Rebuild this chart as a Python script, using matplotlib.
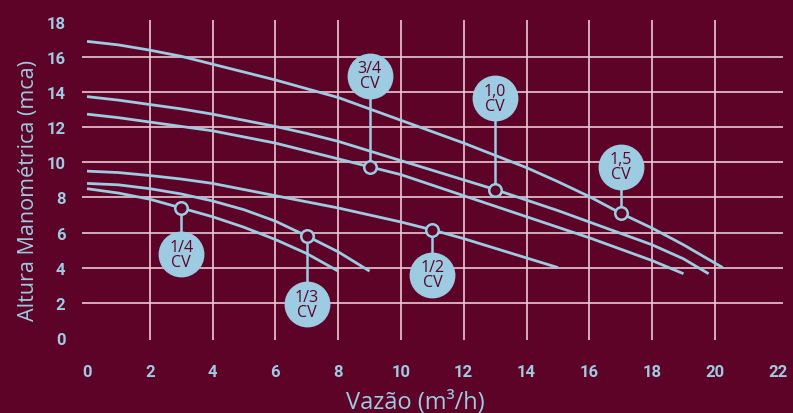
import numpy as np
import matplotlib.pyplot as plt

# Pump curves: flow (m3/h) vs head (mca)
q_14 = [0, 1, 2, 3, 4, 5, 6, 7, 8]
h_14 = [8.5, 8.25, 7.9, 7.4, 6.9, 6.3, 5.6, 4.8, 3.8]

q_13 = [0, 1, 2, 3, 4, 5, 6, 7, 8, 9]
h_13 = [8.8, 8.72, 8.5, 8.2, 7.8, 7.3, 6.65, 5.8, 4.9, 3.8]

q_12 = [0, 1, 2, 3, 4, 5, 6, 7, 8, 9, 10, 11, 12, 13, 14, 15]
h_12 = [9.5, 9.42, 9.25, 9.05, 8.8, 8.45, 8.1, 7.75, 7.4, 7.0, 6.6, 6.15, 5.65, 5.1, 4.55, 4.0]

q_34 = [0, 1, 2, 3, 4, 5, 6, 7, 8, 9, 10, 11, 12, 13, 14, 15, 16, 17, 18, 19]
h_34 = [12.75, 12.55, 12.3, 12.05, 11.8, 11.45, 11.1, 10.65, 10.2, 9.75, 9.3, 8.7, 8.1, 7.5, 6.9, 6.3, 5.7, 5.05, 4.4, 3.65]

q_10 = [0, 1, 2, 3, 4, 5, 6, 7, 8, 9, 10, 11, 12, 13, 14, 15, 16, 17, 18, 19, 19.8]
h_10 = [13.75, 13.55, 13.3, 13.05, 12.75, 12.4, 12.05, 11.65, 11.2, 10.65, 10.1, 9.55, 9.0, 8.45, 7.85, 7.25, 6.6, 5.95, 5.3, 4.5, 3.65]

q_15 = [0, 1, 2, 3, 4, 5, 6, 7, 8, 9, 10, 11, 12, 13, 14, 15, 16, 17, 18, 19, 20.25]
h_15 = [16.9, 16.7, 16.4, 16.05, 15.6, 15.15, 14.7, 14.2, 13.7, 13.05, 12.4, 11.75, 11.1, 10.4, 9.7, 8.9, 8.05, 7.1, 6.25, 5.3, 4.0]

curves = [(q_14, h_14), (q_13, h_13), (q_12, h_12), (q_34, h_34), (q_10, h_10), (q_15, h_15)]

# callouts: label, marker point, bubble centre
labels = ['1/4\nCV', '1/3\nCV', '1/2\nCV', '3/4\nCV', '1,0\nCV', '1,5\nCV']
mark_x = [3, 7, 11, 9, 13, 17]
mark_y = [7.4, 5.8, 6.15, 9.75, 8.45, 7.1]
bub_y = [4.75, 1.9, 3.6, 14.95, 13.65, 9.75]

x_ticks = list(range(0, 23, 2))
y_ticks = list(range(0, 19, 2))

bg = '#5d0328'
blue = '#9ccbe2'
grid_c = '#e9c9d2'

plt.rcParams['font.family'] = ['Open Sans', 'DejaVu Sans']

fig = plt.figure(figsize=(7.93, 4.14), dpi=100, facecolor=bg)
ax = fig.add_axes([0.1034, 0.1763, 0.884, 0.773])
ax.set_facecolor(bg)
ax.set_xlim(-0.16, 22.17)
ax.set_ylim(-0.13, 18.12)
for s in ax.spines.values():
    s.set_visible(False)

# grid
for yv in y_ticks[1:-1]:
    ax.axhline(yv, color=grid_c, lw=1.2, zorder=1)
for xv in x_ticks[1:-1]:
    ax.axvline(xv, color=grid_c, lw=1.2, zorder=1)

for q, h in curves:
    ax.plot(q, h, color=blue, lw=2.0, solid_capstyle='butt', zorder=2)

for lab, mx, my, by in zip(labels, mark_x, mark_y, bub_y):
    ax.plot([mx, mx], [my, by], color=blue, lw=1.8, zorder=3)
    ax.plot(mx, my, 'o', ms=9, mfc=bg, mec=blue, mew=1.8, zorder=4)
    ax.plot(mx, by, 'o', ms=32, mfc=blue, mec=blue, zorder=5)
    ax.text(mx, by, lab, ha='center', va='center', color=bg,
            fontsize=11.5, linespacing=0.9, zorder=6)

ax.set_xticks(x_ticks)
ax.set_yticks(y_ticks)
ax.tick_params(length=0, colors=blue)
ax.tick_params(axis='x', pad=17)
ax.tick_params(axis='y', pad=12)
for t in ax.get_xticklabels() + ax.get_yticklabels():
    t.set_fontweight('bold')
    t.set_family(['Roboto', 'DejaVu Sans'])
    t.set_fontsize(12)

ax.set_xlabel('Vazão (m³/h)', color=blue, fontsize=17)
ax.set_ylabel('Altura Manométrica (mca)', color=blue, fontsize=15.5)
ax.xaxis.set_label_coords(0.475, -0.155)
ax.yaxis.set_label_coords(-0.062, 0.47)

fig.savefig('out.png', dpi=100, facecolor=bg)
